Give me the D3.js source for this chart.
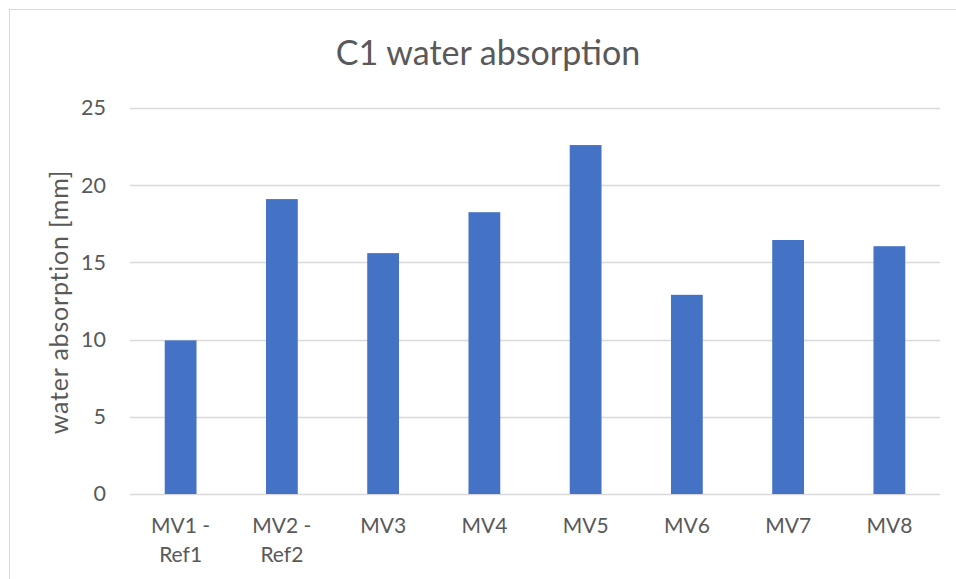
<!DOCTYPE html>
<html>
<head>
<meta charset="utf-8">
<script src="https://cdn.jsdelivr.net/npm/d3@7"></script>
<style>
  body { margin: 0; background: white; }
  text { font-family: Lato, "Open Sans", sans-serif; fill: #595959; }
</style>
</head>
<body>
<div id="chart"></div>
<script>
// data
const categories = [['MV1 -', 'Ref1'], ['MV2 -', 'Ref2'], ['MV3'], ['MV4'], ['MV5'], ['MV6'], ['MV7'], ['MV8']];
const values = [9.95, 19.1, 15.6, 18.25, 22.6, 12.9, 16.45, 16.05];
const yTicks = [0, 5, 10, 15, 20, 25];

const width = 956, height = 579;
const plot = {left: 130, right: 940, top: 108, bottom: 494};

const svg = d3.select('#chart').append('svg')
    .attr('width', width)
    .attr('height', height);

svg.append('rect')
    .attr('width', width).attr('height', height)
    .attr('fill', 'white');

// chart frame (only top & left edges visible)
svg.append('rect')
    .attr('x', 9.5).attr('y', 9.5)
    .attr('width', width + 20).attr('height', height + 20)
    .attr('fill', 'none')
    .attr('stroke', '#d9d9d9')
    .attr('stroke-width', 1);

const keys = categories.map(c => c.join(' '));

const x = d3.scaleBand()
    .domain(keys)
    .range([plot.left, plot.right])
    .paddingInner(0.686)
    .paddingOuter(0.343);

const y = d3.scaleLinear()
    .domain([0, 25])
    .range([plot.bottom, plot.top]);

// gridlines
svg.append('g')
    .selectAll('line')
    .data(yTicks)
    .enter()
    .append('line')
    .attr('x1', plot.left)
    .attr('x2', plot.right)
    .attr('y1', d => Math.round(y(d)) + 0.5)
    .attr('y2', d => Math.round(y(d)) + 0.5)
    .attr('stroke', '#d9d9d9')
    .attr('stroke-width', 1.3);

// y tick labels
const yAxis = svg.append('g')
    .attr('transform', 'translate(' + (plot.left - 8) + ',0)')
    .call(d3.axisLeft(y).tickValues(yTicks).tickSize(0).tickPadding(16));
yAxis.select('.domain').remove();
yAxis.selectAll('text')
    .attr('font-size', '21.5px')
    .attr('font-family', 'Lato, sans-serif')
    .attr('fill', '#595959');

// bars
svg.append('g')
    .selectAll('rect')
    .data(values)
    .enter()
    .append('rect')
    .attr('x', (d, i) => x(keys[i]))
    .attr('y', d => y(d))
    .attr('width', x.bandwidth())
    .attr('height', d => y(0) - y(d))
    .attr('fill', '#4472c4');

// x labels
const xLabels = svg.append('g')
    .selectAll('text')
    .data(categories)
    .enter()
    .append('text')
    .attr('text-anchor', 'middle')
    .attr('font-size', '21px')
    .attr('x', (d, i) => x(keys[i]) + x.bandwidth() / 2)
    .attr('y', 533);
xLabels.selectAll('tspan')
    .data(d => d)
    .enter()
    .append('tspan')
    .attr('x', function() { return d3.select(this.parentNode).attr('x'); })
    .attr('dy', (d, i) => i === 0 ? 0 : 29)
    .text(d => d);

// title
svg.append('text')
    .attr('x', 488)
    .attr('y', 65)
    .attr('text-anchor', 'middle')
    .attr('font-size', '34px')
    .text('C1 water absorption');

// y axis title
svg.append('text')
    .attr('transform', 'translate(68,302) rotate(-90)')
    .attr('text-anchor', 'middle')
    .attr('font-size', '25px')
    .attr('letter-spacing', '0.8px')
    .text('water absorption [mm]');
</script>
</body>
</html>
